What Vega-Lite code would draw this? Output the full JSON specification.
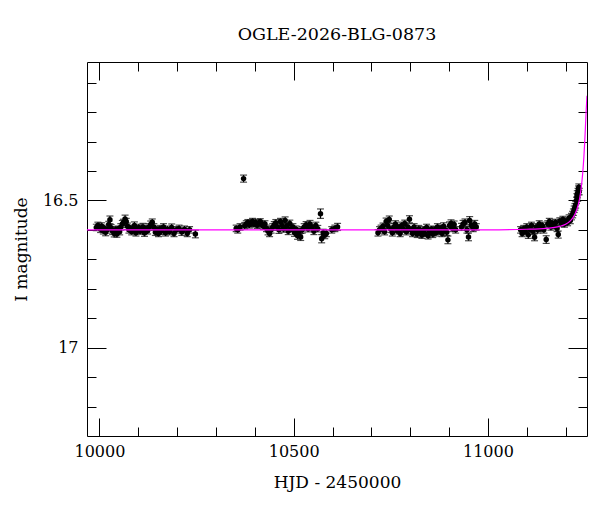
{
  "$schema": "https://vega.github.io/schema/vega-lite/v6.json",
  "width": 500,
  "height": 374,
  "autosize": "none",
  "padding": {"left": 87, "top": 62, "right": 13, "bottom": 76},
  "background": "white",
  "title": {
    "text": "OGLE-2026-BLG-0873",
    "font": "DejaVu Serif",
    "fontSize": 17.5,
    "fontWeight": "normal",
    "color": "black",
    "offset": 18
  },
  "datasets": {
    "phot": [
      {"t": 9992, "mag": 16.592, "err": 0.011}, {"t": 9996, "mag": 16.585, "err": 0.011}, {"t": 9999, "mag": 16.590, "err": 0.010},
      {"t": 10003, "mag": 16.598, "err": 0.011}, {"t": 10006, "mag": 16.588, "err": 0.012}, {"t": 10010, "mag": 16.603, "err": 0.011},
      {"t": 10013, "mag": 16.595, "err": 0.011}, {"t": 10016, "mag": 16.608, "err": 0.012}, {"t": 10020, "mag": 16.600, "err": 0.011},
      {"t": 10024, "mag": 16.582, "err": 0.011}, {"t": 10027, "mag": 16.566, "err": 0.013}, {"t": 10030, "mag": 16.593, "err": 0.011},
      {"t": 10034, "mag": 16.605, "err": 0.011}, {"t": 10038, "mag": 16.612, "err": 0.012}, {"t": 10041, "mag": 16.600, "err": 0.011},
      {"t": 10045, "mag": 16.614, "err": 0.011}, {"t": 10048, "mag": 16.597, "err": 0.010}, {"t": 10052, "mag": 16.606, "err": 0.011},
      {"t": 10055, "mag": 16.590, "err": 0.011}, {"t": 10059, "mag": 16.580, "err": 0.012}, {"t": 10062, "mag": 16.575, "err": 0.011},
      {"t": 10066, "mag": 16.563, "err": 0.013}, {"t": 10069, "mag": 16.572, "err": 0.011}, {"t": 10072, "mag": 16.588, "err": 0.011},
      {"t": 10076, "mag": 16.600, "err": 0.011}, {"t": 10079, "mag": 16.594, "err": 0.010}, {"t": 10083, "mag": 16.606, "err": 0.011},
      {"t": 10087, "mag": 16.598, "err": 0.011}, {"t": 10090, "mag": 16.585, "err": 0.012}, {"t": 10094, "mag": 16.610, "err": 0.011},
      {"t": 10097, "mag": 16.600, "err": 0.011}, {"t": 10101, "mag": 16.592, "err": 0.011}, {"t": 10105, "mag": 16.605, "err": 0.010},
      {"t": 10108, "mag": 16.598, "err": 0.011}, {"t": 10112, "mag": 16.590, "err": 0.012}, {"t": 10116, "mag": 16.611, "err": 0.011},
      {"t": 10120, "mag": 16.595, "err": 0.011}, {"t": 10124, "mag": 16.603, "err": 0.011}, {"t": 10128, "mag": 16.590, "err": 0.011},
      {"t": 10132, "mag": 16.582, "err": 0.012}, {"t": 10136, "mag": 16.574, "err": 0.011}, {"t": 10140, "mag": 16.590, "err": 0.011},
      {"t": 10144, "mag": 16.608, "err": 0.011}, {"t": 10148, "mag": 16.599, "err": 0.010}, {"t": 10152, "mag": 16.612, "err": 0.011},
      {"t": 10156, "mag": 16.596, "err": 0.011}, {"t": 10160, "mag": 16.604, "err": 0.012}, {"t": 10165, "mag": 16.590, "err": 0.011},
      {"t": 10170, "mag": 16.610, "err": 0.011}, {"t": 10175, "mag": 16.598, "err": 0.011}, {"t": 10180, "mag": 16.606, "err": 0.011},
      {"t": 10186, "mag": 16.592, "err": 0.012}, {"t": 10192, "mag": 16.612, "err": 0.011}, {"t": 10198, "mag": 16.600, "err": 0.011},
      {"t": 10205, "mag": 16.595, "err": 0.011}, {"t": 10212, "mag": 16.607, "err": 0.012}, {"t": 10219, "mag": 16.598, "err": 0.011},
      {"t": 10226, "mag": 16.612, "err": 0.011}, {"t": 10232, "mag": 16.600, "err": 0.011}, {"t": 10247, "mag": 16.614, "err": 0.013},

      {"t": 10352, "mag": 16.595, "err": 0.011}, {"t": 10356, "mag": 16.600, "err": 0.011}, {"t": 10362, "mag": 16.590, "err": 0.011},
      {"t": 10371, "mag": 16.426, "err": 0.012}, {"t": 10374, "mag": 16.586, "err": 0.011}, {"t": 10378, "mag": 16.580, "err": 0.011},
      {"t": 10382, "mag": 16.575, "err": 0.010}, {"t": 10386, "mag": 16.583, "err": 0.011}, {"t": 10390, "mag": 16.578, "err": 0.011},
      {"t": 10394, "mag": 16.572, "err": 0.011}, {"t": 10398, "mag": 16.580, "err": 0.010}, {"t": 10402, "mag": 16.575, "err": 0.011},
      {"t": 10406, "mag": 16.584, "err": 0.011}, {"t": 10410, "mag": 16.578, "err": 0.011}, {"t": 10414, "mag": 16.572, "err": 0.010},
      {"t": 10418, "mag": 16.582, "err": 0.011}, {"t": 10422, "mag": 16.588, "err": 0.011}, {"t": 10426, "mag": 16.580, "err": 0.011},
      {"t": 10430, "mag": 16.595, "err": 0.011}, {"t": 10434, "mag": 16.605, "err": 0.012}, {"t": 10438, "mag": 16.612, "err": 0.011},
      {"t": 10442, "mag": 16.600, "err": 0.011}, {"t": 10446, "mag": 16.590, "err": 0.011}, {"t": 10450, "mag": 16.583, "err": 0.011},
      {"t": 10454, "mag": 16.576, "err": 0.011}, {"t": 10458, "mag": 16.590, "err": 0.011}, {"t": 10462, "mag": 16.600, "err": 0.012},
      {"t": 10466, "mag": 16.572, "err": 0.011}, {"t": 10470, "mag": 16.585, "err": 0.011}, {"t": 10474, "mag": 16.597, "err": 0.011},
      {"t": 10478, "mag": 16.568, "err": 0.012}, {"t": 10482, "mag": 16.588, "err": 0.011}, {"t": 10486, "mag": 16.605, "err": 0.011},
      {"t": 10490, "mag": 16.578, "err": 0.011}, {"t": 10494, "mag": 16.596, "err": 0.011}, {"t": 10498, "mag": 16.590, "err": 0.011},
      {"t": 10502, "mag": 16.610, "err": 0.012}, {"t": 10506, "mag": 16.598, "err": 0.011}, {"t": 10510, "mag": 16.620, "err": 0.012},
      {"t": 10514, "mag": 16.605, "err": 0.011}, {"t": 10518, "mag": 16.624, "err": 0.012}, {"t": 10522, "mag": 16.600, "err": 0.011},
      {"t": 10527, "mag": 16.590, "err": 0.011}, {"t": 10532, "mag": 16.583, "err": 0.011}, {"t": 10537, "mag": 16.596, "err": 0.011},
      {"t": 10542, "mag": 16.580, "err": 0.012}, {"t": 10547, "mag": 16.592, "err": 0.011}, {"t": 10552, "mag": 16.605, "err": 0.011},
      {"t": 10557, "mag": 16.585, "err": 0.011}, {"t": 10562, "mag": 16.596, "err": 0.011}, {"t": 10569, "mag": 16.545, "err": 0.016},
      {"t": 10572, "mag": 16.630, "err": 0.014}, {"t": 10576, "mag": 16.610, "err": 0.012}, {"t": 10580, "mag": 16.618, "err": 0.012},
      {"t": 10584, "mag": 16.612, "err": 0.011}, {"t": 10598, "mag": 16.600, "err": 0.011}, {"t": 10606, "mag": 16.595, "err": 0.011},
      {"t": 10613, "mag": 16.590, "err": 0.012},

      {"t": 10717, "mag": 16.610, "err": 0.011}, {"t": 10721, "mag": 16.600, "err": 0.011}, {"t": 10725, "mag": 16.595, "err": 0.011},
      {"t": 10730, "mag": 16.588, "err": 0.011}, {"t": 10734, "mag": 16.606, "err": 0.011}, {"t": 10738, "mag": 16.572, "err": 0.012},
      {"t": 10742, "mag": 16.585, "err": 0.011}, {"t": 10746, "mag": 16.565, "err": 0.012}, {"t": 10750, "mag": 16.598, "err": 0.011},
      {"t": 10754, "mag": 16.610, "err": 0.011}, {"t": 10758, "mag": 16.590, "err": 0.011}, {"t": 10762, "mag": 16.580, "err": 0.011},
      {"t": 10766, "mag": 16.603, "err": 0.011}, {"t": 10770, "mag": 16.592, "err": 0.011}, {"t": 10774, "mag": 16.612, "err": 0.011},
      {"t": 10778, "mag": 16.585, "err": 0.011}, {"t": 10782, "mag": 16.598, "err": 0.011}, {"t": 10786, "mag": 16.578, "err": 0.011},
      {"t": 10790, "mag": 16.606, "err": 0.011}, {"t": 10794, "mag": 16.590, "err": 0.011}, {"t": 10798, "mag": 16.564, "err": 0.012},
      {"t": 10802, "mag": 16.600, "err": 0.011}, {"t": 10806, "mag": 16.612, "err": 0.011}, {"t": 10810, "mag": 16.590, "err": 0.011},
      {"t": 10814, "mag": 16.605, "err": 0.011}, {"t": 10818, "mag": 16.615, "err": 0.011}, {"t": 10822, "mag": 16.596, "err": 0.011},
      {"t": 10826, "mag": 16.608, "err": 0.011}, {"t": 10830, "mag": 16.618, "err": 0.011}, {"t": 10834, "mag": 16.600, "err": 0.011},
      {"t": 10838, "mag": 16.612, "err": 0.011}, {"t": 10842, "mag": 16.592, "err": 0.011}, {"t": 10846, "mag": 16.620, "err": 0.011},
      {"t": 10850, "mag": 16.605, "err": 0.011}, {"t": 10854, "mag": 16.598, "err": 0.011}, {"t": 10858, "mag": 16.615, "err": 0.011},
      {"t": 10862, "mag": 16.600, "err": 0.011}, {"t": 10866, "mag": 16.610, "err": 0.011}, {"t": 10870, "mag": 16.590, "err": 0.011},
      {"t": 10874, "mag": 16.605, "err": 0.011}, {"t": 10878, "mag": 16.595, "err": 0.011}, {"t": 10882, "mag": 16.612, "err": 0.011},
      {"t": 10886, "mag": 16.588, "err": 0.012}, {"t": 10890, "mag": 16.600, "err": 0.011}, {"t": 10894, "mag": 16.608, "err": 0.011},
      {"t": 10897, "mag": 16.634, "err": 0.013}, {"t": 10901, "mag": 16.585, "err": 0.012}, {"t": 10905, "mag": 16.578, "err": 0.012},
      {"t": 10909, "mag": 16.595, "err": 0.011}, {"t": 10913, "mag": 16.582, "err": 0.012}, {"t": 10917, "mag": 16.600, "err": 0.011},
      {"t": 10932, "mag": 16.590, "err": 0.012}, {"t": 10936, "mag": 16.580, "err": 0.012}, {"t": 10941, "mag": 16.575, "err": 0.012},
      {"t": 10946, "mag": 16.600, "err": 0.011}, {"t": 10950, "mag": 16.624, "err": 0.013}, {"t": 10953, "mag": 16.568, "err": 0.013},
      {"t": 10957, "mag": 16.585, "err": 0.012}, {"t": 10962, "mag": 16.595, "err": 0.011}, {"t": 10966, "mag": 16.580, "err": 0.012},
      {"t": 10970, "mag": 16.590, "err": 0.011},

      {"t": 11084, "mag": 16.600, "err": 0.011}, {"t": 11088, "mag": 16.612, "err": 0.011}, {"t": 11092, "mag": 16.596, "err": 0.011},
      {"t": 11096, "mag": 16.606, "err": 0.011}, {"t": 11100, "mag": 16.590, "err": 0.011}, {"t": 11104, "mag": 16.617, "err": 0.012},
      {"t": 11108, "mag": 16.598, "err": 0.011}, {"t": 11112, "mag": 16.585, "err": 0.011}, {"t": 11116, "mag": 16.605, "err": 0.011},
      {"t": 11120, "mag": 16.625, "err": 0.012}, {"t": 11124, "mag": 16.590, "err": 0.011}, {"t": 11128, "mag": 16.600, "err": 0.011},
      {"t": 11132, "mag": 16.580, "err": 0.011}, {"t": 11136, "mag": 16.595, "err": 0.011}, {"t": 11140, "mag": 16.585, "err": 0.011},
      {"t": 11144, "mag": 16.600, "err": 0.011}, {"t": 11150, "mag": 16.633, "err": 0.013}, {"t": 11154, "mag": 16.580, "err": 0.011},
      {"t": 11158, "mag": 16.572, "err": 0.011}, {"t": 11162, "mag": 16.590, "err": 0.011}, {"t": 11166, "mag": 16.578, "err": 0.011},
      {"t": 11170, "mag": 16.585, "err": 0.011}, {"t": 11174, "mag": 16.575, "err": 0.011}, {"t": 11178, "mag": 16.595, "err": 0.011},
      {"t": 11181, "mag": 16.616, "err": 0.012}, {"t": 11185, "mag": 16.570, "err": 0.011}, {"t": 11189, "mag": 16.578, "err": 0.011},
      {"t": 11193, "mag": 16.565, "err": 0.011}, {"t": 11197, "mag": 16.580, "err": 0.011}, {"t": 11201, "mag": 16.570, "err": 0.011},
      {"t": 11205, "mag": 16.575, "err": 0.011}, {"t": 11209, "mag": 16.560, "err": 0.011}, {"t": 11212, "mag": 16.568, "err": 0.011},
      {"t": 11215, "mag": 16.555, "err": 0.011}, {"t": 11218, "mag": 16.548, "err": 0.011}, {"t": 11220, "mag": 16.540, "err": 0.011},
      {"t": 11222, "mag": 16.530, "err": 0.011}, {"t": 11224, "mag": 16.522, "err": 0.011}, {"t": 11226, "mag": 16.515, "err": 0.011},
      {"t": 11228, "mag": 16.500, "err": 0.011}, {"t": 11229, "mag": 16.488, "err": 0.011}, {"t": 11230, "mag": 16.478, "err": 0.011},
      {"t": 11231, "mag": 16.492, "err": 0.011}, {"t": 11232, "mag": 16.470, "err": 0.011}, {"t": 11233, "mag": 16.462, "err": 0.011},
      {"t": 11234, "mag": 16.455, "err": 0.011}, {"t": 11235, "mag": 16.470, "err": 0.011}
    ],
    "model": [
      {"t": 9968, "mag": 16.600}, {"t": 11000, "mag": 16.600}, {"t": 11100, "mag": 16.598}, {"t": 11150, "mag": 16.595},
      {"t": 11185, "mag": 16.588}, {"t": 11200, "mag": 16.581}, {"t": 11210, "mag": 16.572}, {"t": 11218, "mag": 16.560},
      {"t": 11224, "mag": 16.547}, {"t": 11229, "mag": 16.530}, {"t": 11233, "mag": 16.512}, {"t": 11236, "mag": 16.494},
      {"t": 11239, "mag": 16.468}, {"t": 11242, "mag": 16.435}, {"t": 11245, "mag": 16.390}, {"t": 11247, "mag": 16.352},
      {"t": 11249, "mag": 16.305}, {"t": 11251, "mag": 16.250}, {"t": 11253, "mag": 16.192}, {"t": 11255, "mag": 16.145}
    ]
  },
  "layer": [
    {
      "data": {"name": "phot"},
      "mark": {"type": "errorbar", "ticks": {"size": 7}, "color": "black", "thickness": 1.2},
      "encoding": {
        "x": {
          "field": "t",
          "type": "quantitative",
          "scale": {"domain": [9968, 11255], "nice": false, "zero": false},
          "axis": {
            "orient": "bottom",
            "values": [10000, 10100, 10200, 10300, 10400, 10500, 10600, 10700, 10800, 10900, 11000, 11100, 11200],
            "labelExpr": "datum.value % 500 === 0 ? datum.value + '' : ''",
            "tickSize": {"condition": {"test": "datum.value % 500 === 0", "value": -18}, "value": -9},
            "labelPadding": 25,
            "labelFlush": false,
            "labelOverlap": false,
            "title": "HJD - 2450000",
            "titlePadding": 6
          }
        },
        "y": {
          "field": "mag",
          "type": "quantitative",
          "scale": {"domain": [16.03, 17.3], "reverse": true, "nice": false, "zero": false},
          "axis": {
            "orient": "left",
            "values": [16.1, 16.2, 16.3, 16.4, 16.5, 16.6, 16.7, 16.8, 16.9, 17.0, 17.1, 17.2],
            "labelExpr": "round(datum.value * 10) % 5 === 0 ? format(datum.value, '~g') : ''",
            "tickSize": {"condition": {"test": "round(datum.value * 10) % 5 === 0", "value": -19}, "value": -9},
            "labelPadding": 28,
            "labelFlush": false,
            "labelOverlap": false,
            "title": "I magnitude",
            "titlePadding": 12
          }
        },
        "yError": {"field": "err"}
      }
    },
    {
      "data": {"name": "phot"},
      "mark": {"type": "point", "filled": true, "size": 30, "color": "black", "opacity": 1},
      "encoding": {
        "x": {
          "field": "t",
          "type": "quantitative",
          "axis": {
            "orient": "top",
            "values": [10000, 10100, 10200, 10300, 10400, 10500, 10600, 10700, 10800, 10900, 11000, 11100, 11200],
            "labels": false,
            "title": null,
            "tickSize": {"condition": {"test": "datum.value % 500 === 0", "value": -18}, "value": -9}
          }
        },
        "y": {
          "field": "mag",
          "type": "quantitative",
          "axis": {
            "orient": "right",
            "values": [16.1, 16.2, 16.3, 16.4, 16.5, 16.6, 16.7, 16.8, 16.9, 17.0, 17.1, 17.2],
            "labels": false,
            "title": null,
            "tickSize": {"condition": {"test": "round(datum.value * 10) % 5 === 0", "value": -19}, "value": -9}
          }
        }
      }
    },
    {
      "data": {"name": "model"},
      "mark": {"type": "line", "color": "#ff00ff", "strokeWidth": 1.2, "clip": true, "interpolate": "monotone"},
      "encoding": {
        "x": {"field": "t", "type": "quantitative", "axis": null},
        "y": {"field": "mag", "type": "quantitative", "axis": null}
      }
    }
  ],
  "resolve": {"axis": {"x": "independent", "y": "independent"}},
  "config": {
    "view": {"stroke": null},
    "axis": {
      "grid": false,
      "domainColor": "black",
      "domainWidth": 1,
      "tickColor": "black",
      "tickWidth": 1,
      "labelColor": "black",
      "labelFont": "DejaVu Serif",
      "labelFontSize": 16,
      "titleColor": "black",
      "titleFont": "DejaVu Serif",
      "titleFontSize": 17,
      "titleFontWeight": "normal"
    }
  }
}
